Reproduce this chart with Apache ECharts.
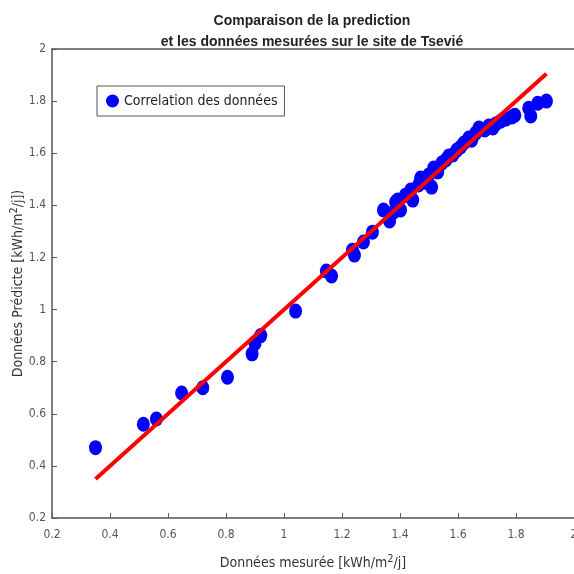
<!DOCTYPE html>
<html><head><meta charset="utf-8">
<script src="https://cdn.jsdelivr.net/npm/echarts@6/dist/echarts.min.js"></script>
<style>html,body{margin:0;padding:0;background:#fff}#c{width:574px;height:574px}</style>
</head><body><div id="c"></div>
<script>
const xTicks = [0.2,0.4,0.6,0.8,1,1.2,1.4,1.6,1.8,2];
const measured = [0.35,0.515,0.56,0.647,0.72,0.805,0.89,0.90,0.92,1.04,1.146,1.164,1.236,1.243,1.274,1.305,
  1.343,1.364,1.378,1.385,1.392,1.402,1.419,1.437,1.444,1.464,1.471,1.488,1.499,1.509,1.516,1.530,1.544,1.558,1.568,1.582,1.596,1.609,1.620,1.637,1.647,1.661,1.672,1.692,1.706,1.720,1.730,1.747,1.765,1.786,1.796,1.844,1.851,1.875,1.905];
const predicted = [0.47,0.56,0.58,0.68,0.70,0.74,0.83,0.87,0.90,0.994,1.148,1.129,1.228,1.209,1.259,1.297,
  1.382,1.340,1.374,1.413,1.420,1.382,1.439,1.459,1.420,1.478,1.505,1.489,1.516,1.470,1.543,1.528,1.562,1.574,1.589,1.593,1.612,1.624,1.639,1.658,1.650,1.677,1.697,1.689,1.704,1.697,1.712,1.723,1.731,1.739,1.746,1.773,1.743,1.792,1.800];
const fitLine = [[0.35,0.35],[1.905,1.905]];
const legendName = 'Correlation des données';

const ell = 'path://M50,0 A50,50 0 1,1 50,100 A50,50 0 1,1 50,0 Z';
const FONT = "'Liberation Sans Narrow','DejaVu Sans Condensed','Liberation Sans',Arial,sans-serif";
const chart = echarts.init(document.getElementById('c'));
chart.setOption({
  animation:false,
  textStyle:{fontFamily:FONT},
  title:{text:'Comparaison de la prediction\net les données mesurées sur le site de Tsevié',
    left:307, top:6, textAlign:'center',
    textStyle:{fontFamily:"'Liberation Sans',Arial,sans-serif",fontWeight:'bold',fontSize:14,color:'#222',lineHeight:21}},
  legend:{data:[{name:legendName,icon:ell}], left:97, top:86, orient:'vertical',
    itemWidth:13, itemHeight:15, padding:[8,7,8,9], borderColor:'#555', borderWidth:1,
    textStyle:{fontSize:14,color:'#222',fontFamily:FONT}},
  grid:{left:52,right:0,top:49,bottom:56,containLabel:false,outerBoundsMode:'none'},
  xAxis:[{type:'value',min:0.2,max:2,interval:0.2,
    name:'{a|Données mesurée [kWh/m}{s|2}{a|/j]}',nameLocation:'middle',nameGap:36,
    nameTextStyle:{rich:{a:{fontSize:14,color:'#333',fontFamily:FONT},s:{fontSize:11,color:'#333',fontFamily:FONT,padding:[0,0,8,0]}}},
    axisLine:{lineStyle:{color:'#555',width:1.5}},axisTick:{inside:true,length:5,lineStyle:{color:'#555'}},
    axisLabel:{color:'#555',fontSize:12,margin:11,formatter:v=>String(+v.toFixed(1))},splitLine:{show:false}},
   {type:'value',position:'top',min:0.2,max:2,interval:0.2,axisLine:{show:true,lineStyle:{color:'#555',width:1.5}},
    axisTick:{show:false},axisLabel:{show:false},splitLine:{show:false}}],
  yAxis:[{type:'value',min:0.2,max:2,interval:0.2,
    name:'{a|Données Prédicte [kWh/m}{s|2}{a|/j])}',nameLocation:'middle',nameGap:24,nameMoveOverlap:false,
    nameTextStyle:{rich:{a:{fontSize:14,color:'#333',fontFamily:FONT},s:{fontSize:11,color:'#333',fontFamily:FONT,padding:[0,0,8,0]}}},
    axisLine:{lineStyle:{color:'#555',width:1.5}},axisTick:{inside:true,length:5,lineStyle:{color:'#555'}},
    axisLabel:{color:'#555',fontSize:12,margin:6,formatter:v=>String(+v.toFixed(1))},splitLine:{show:false}},
   {type:'value',position:'right',min:0.2,max:2,axisLine:{show:true},axisTick:{show:false},axisLabel:{show:false},splitLine:{show:false}}],
  series:[
    {name:legendName,type:'scatter',symbol:ell,symbolSize:[13,15],itemStyle:{color:'#0000ff',opacity:1},
     data:measured.map((m,i)=>[m,predicted[i]]),z:2},
    {name:'fit',type:'line',data:fitLine,symbol:'none',lineStyle:{color:'#ff0000',width:4},z:3}
  ]
});
</script></body></html>
